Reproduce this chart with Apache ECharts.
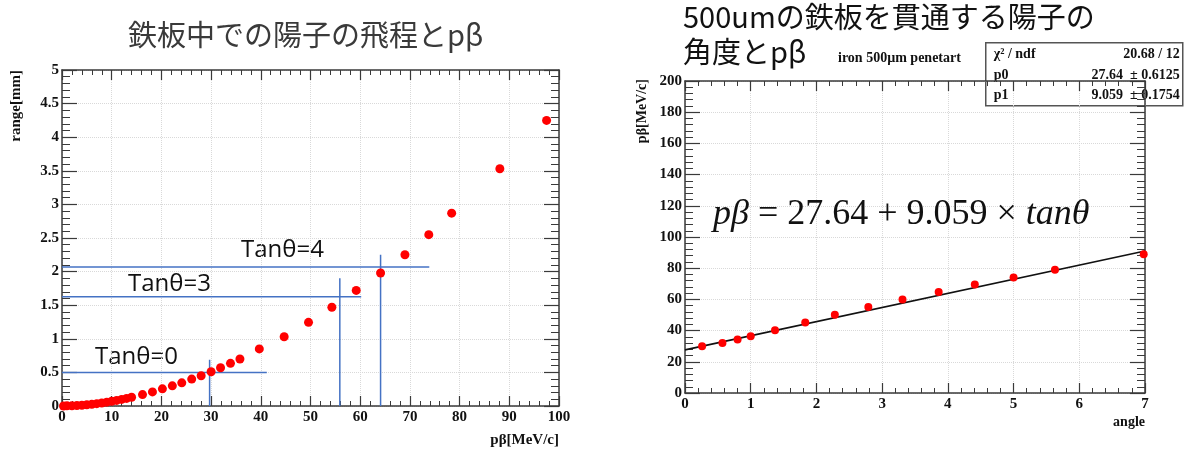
<!DOCTYPE html>
<html>
<head>
<meta charset="utf-8">
<script src="https://cdn.jsdelivr.net/npm/echarts@6/dist/echarts.min.js"></script>
<style>
  html, body { margin: 0; padding: 0; background: #fff; }
  #chart { width: 1192px; height: 452px; }
</style>
</head>
<body>
<div id="chart"></div>
<script>
// Proton range in iron vs pβ (left panel)
const rangePB = [0.3, 1, 2, 3, 4, 5, 6, 7, 8, 9, 10, 11, 12, 13, 14,
  16.2, 18.2, 20.2, 22.2, 24.1, 26.1, 28.0, 30.0, 31.9, 33.9, 35.8, 39.7,
  44.7, 49.6, 54.3, 59.2, 64.1, 69.0, 73.8, 78.4, 88.1, 97.5];
const rangeMM = [0.0, 0.002, 0.004, 0.008, 0.012, 0.018, 0.025, 0.035, 0.045, 0.057, 0.07, 0.083, 0.098, 0.113, 0.13,
  0.17, 0.21, 0.255, 0.30, 0.345, 0.40, 0.45, 0.51, 0.57, 0.635, 0.70, 0.85,
  1.03, 1.245, 1.47, 1.72, 1.98, 2.25, 2.55, 2.87, 3.53, 4.25];

// Guide lines for tanθ = 0, 3, 4: [pβ, range] where the horizontal and vertical segments meet
const guideNames = ['Tanθ=0', 'Tanθ=3', 'Tanθ=4'];
const guideRange = [0.5, 1.627, 2.07];     // horizontal line height
const guideHEnd = [41.2, 60.2, 73.9];       // horizontal line right end
const guidePB = [29.7, 55.9, 64.1];          // vertical line position
const guideVTop = [0.69, 1.9, 2.25];         // vertical line top

// pβ vs angle through 500um iron (right panel)
const angleX = [0.26, 0.57, 0.8, 1.0, 1.37, 1.83, 2.28, 2.79, 3.31, 3.86, 4.41, 5.0, 5.63, 6.98];
const pbY = [30.0, 32.1, 34.3, 36.4, 40.2, 45.2, 50.1, 55.2, 59.9, 64.8, 69.6, 74.1, 79.0, 89.0];

// Linear fit results
const fitP0 = 27.64, fitP0Err = 0.6125;
const fitP1 = 9.059, fitP1Err = 0.1754;
const fitChi2 = 20.68, fitNdf = 12;
const fitRange = [0, 7];

const chart = echarts.init(document.getElementById('chart'));

const serif = '"Liberation Serif", "Times New Roman", serif';
const cjk = '"Noto Sans CJK JP", "Noto Sans", sans-serif';
const frame = '#3a3a3a';

function xAxisPair(grid, min, max, interval) {
  const base = {
    gridIndex: grid, type: 'value', min: min, max: max, interval: interval,
    axisLine: { show: true, onZero: false, lineStyle: { color: frame, width: 1.5 } },
    axisTick: { show: true, inside: true, length: 10, lineStyle: { color: frame, width: 1.2 } },
    minorTick: { show: true, splitNumber: 5, length: 5, lineStyle: { color: frame, width: 1 } }
  };
  return [
    Object.assign({}, base, {
      position: 'bottom',
      axisLabel: { show: true, margin: 4, color: '#111', fontFamily: serif, fontWeight: 'bold', fontSize: 15 },
      splitLine: { show: true, lineStyle: { color: '#d9d9d9', type: 'dotted', width: 1 } }
    }),
    Object.assign({}, base, {
      position: 'top',
      axisLabel: { show: false },
      splitLine: { show: false }
    })
  ];
}

function yAxisPair(grid, min, max, interval) {
  const base = {
    gridIndex: grid, type: 'value', min: min, max: max, interval: interval,
    axisLine: { show: true, onZero: false, lineStyle: { color: frame, width: 1.5 } },
    axisTick: { show: true, inside: true, length: 15, lineStyle: { color: frame, width: 1.2 } },
    minorTick: { show: true, splitNumber: 5, length: 8, lineStyle: { color: frame, width: 1 } }
  };
  return [
    Object.assign({}, base, {
      position: 'left',
      axisLabel: { show: true, margin: 3, color: '#111', fontFamily: serif, fontWeight: 'bold', fontSize: 15 },
      splitLine: { show: true, lineStyle: { color: '#d9d9d9', type: 'dotted', width: 1 } }
    }),
    Object.assign({}, base, {
      position: 'right',
      axisLabel: { show: false },
      splitLine: { show: false }
    })
  ];
}

const guideSeries = [];
guideRange.forEach(function (r, i) {
  guideSeries.push({
    type: 'line', xAxisIndex: 0, yAxisIndex: 0, symbol: 'none', silent: true,
    lineStyle: { color: '#4472c4', width: 1.5 },
    data: [[0, r], [guideHEnd[i], r]], z: 3
  });
  guideSeries.push({
    type: 'line', xAxisIndex: 0, yAxisIndex: 0, symbol: 'none', silent: true,
    lineStyle: { color: '#4472c4', width: 1.5 },
    data: [[guidePB[i], 0], [guidePB[i], guideVTop[i]]], z: 3
  });
});

const guideLabelPos = [[95, 357], [128, 284], [241, 250]];

const fmt = function (v, d) { return v.toFixed(d); };

const option = {
  animation: false,
  backgroundColor: '#fff',
  grid: [
    { left: 62, top: 70, width: 497, height: 336 },
    { left: 685, top: 81, width: 460, height: 312 }
  ],
  xAxis: xAxisPair(0, 0, 100, 10).concat(xAxisPair(1, 0, 7, 1)),
  yAxis: yAxisPair(0, 0, 5, 0.5).concat(yAxisPair(1, 0, 200, 20)),
  series: guideSeries.concat([
    {
      type: 'scatter', xAxisIndex: 0, yAxisIndex: 0, symbolSize: 9,
      itemStyle: { color: '#ff0000', opacity: 1 }, z: 5,
      data: rangePB.map(function (x, i) { return [x, rangeMM[i]]; })
    },
    {
      type: 'line', xAxisIndex: 2, yAxisIndex: 2, symbol: 'none',
      lineStyle: { color: '#111', width: 1.6 }, z: 4,
      data: fitRange.map(function (x) { return [x, fitP0 + fitP1 * x]; })
    },
    {
      type: 'scatter', xAxisIndex: 2, yAxisIndex: 2, symbolSize: 8,
      itemStyle: { color: '#ff0000', opacity: 1 }, z: 5,
      data: angleX.map(function (x, i) { return [x, pbY[i]]; })
    }
  ]),
  graphic: [
    // panel titles
    { type: 'text', left: 128, top: 20, style: { text: '鉄板中での陽子の飛程とpβ', font: '29px ' + cjk, fill: '#3a3a3a' } },
    { type: 'text', left: 683, top: 2, style: { text: '500umの鉄板を貫通する陽子の', font: '29px ' + cjk, fill: '#111' } },
    { type: 'text', left: 683, top: 37, style: { text: '角度とpβ', font: '29px ' + cjk, fill: '#111' } },
    { type: 'text', left: 838, top: 51, style: { text: 'iron 500µm penetart', font: 'bold 14px ' + serif, fill: '#111' } },

    // axis titles
    { type: 'text', x: 16, y: 70, rotation: Math.PI / 2,
      style: { text: 'range[mm]', font: 'bold 15px ' + serif, fill: '#111', align: 'right', verticalAlign: 'middle' } },
    { type: 'text', x: 559, y: 440,
      style: { text: 'pβ[MeV/c]', font: 'bold 15px ' + serif, fill: '#111', align: 'right', verticalAlign: 'middle' } },
    { type: 'text', x: 642, y: 79, rotation: Math.PI / 2,
      style: { text: 'pβ[MeV/c]', font: 'bold 14px ' + serif, fill: '#111', align: 'right', verticalAlign: 'middle' } },
    { type: 'text', x: 1145, y: 422,
      style: { text: 'angle', font: 'bold 14px ' + serif, fill: '#111', align: 'right', verticalAlign: 'middle' } },

    // guide labels
    { type: 'text', x: guideLabelPos[0][0], y: guideLabelPos[0][1],
      style: { text: guideNames[0], font: '24px "Open Sans", sans-serif', fill: '#111', verticalAlign: 'middle' } },
    { type: 'text', x: guideLabelPos[1][0], y: guideLabelPos[1][1],
      style: { text: guideNames[1], font: '24px "Open Sans", sans-serif', fill: '#111', verticalAlign: 'middle' } },
    { type: 'text', x: guideLabelPos[2][0], y: guideLabelPos[2][1],
      style: { text: guideNames[2], font: '24px "Open Sans", sans-serif', fill: '#111', verticalAlign: 'middle' } },

    // fit formula
    { type: 'text', x: 713, y: 215, z: 10,
      style: {
        text: '{i|pβ}{n| = ' + fmt(fitP0, 2) + ' + ' + fmt(fitP1, 3) + ' × }{i|tanθ}',
        verticalAlign: 'middle', fill: '#111',
        rich: {
          i: { font: 'italic 36px "Liberation Serif", serif', fill: '#111' },
          n: { font: '36px "Liberation Serif", serif', fill: '#111' }
        }
      } },

    // fit statistics box
    { type: 'group', left: 985, top: 42, z: 20, children: [
      { type: 'rect', shape: { x: 0, y: 0, width: 197, height: 63 },
        style: { fill: '#fff', stroke: '#555', lineWidth: 1.5 } },
      { type: 'text', x: 8, y: 12, style: { text: 'χ² / ndf', font: 'bold 14px ' + serif, fill: '#111', verticalAlign: 'middle' } },
      { type: 'text', x: 194, y: 12, style: { text: fmt(fitChi2, 2) + ' / ' + fitNdf, font: 'bold 14px ' + serif, fill: '#111', align: 'right', verticalAlign: 'middle' } },
      { type: 'text', x: 8, y: 33, style: { text: 'p0', font: 'bold 14px ' + serif, fill: '#111', verticalAlign: 'middle' } },
      { type: 'text', x: 194, y: 33, style: { text: fmt(fitP0, 2) + '  ± ' + fitP0Err, font: 'bold 14px ' + serif, fill: '#111', align: 'right', verticalAlign: 'middle' } },
      { type: 'text', x: 8, y: 53, style: { text: 'p1', font: 'bold 14px ' + serif, fill: '#111', verticalAlign: 'middle' } },
      { type: 'text', x: 194, y: 53, style: { text: fmt(fitP1, 3) + '  ± ' + fitP1Err, font: 'bold 14px ' + serif, fill: '#111', align: 'right', verticalAlign: 'middle' } }
    ] }
  ]
};

chart.setOption(option);
</script>
</body>
</html>
